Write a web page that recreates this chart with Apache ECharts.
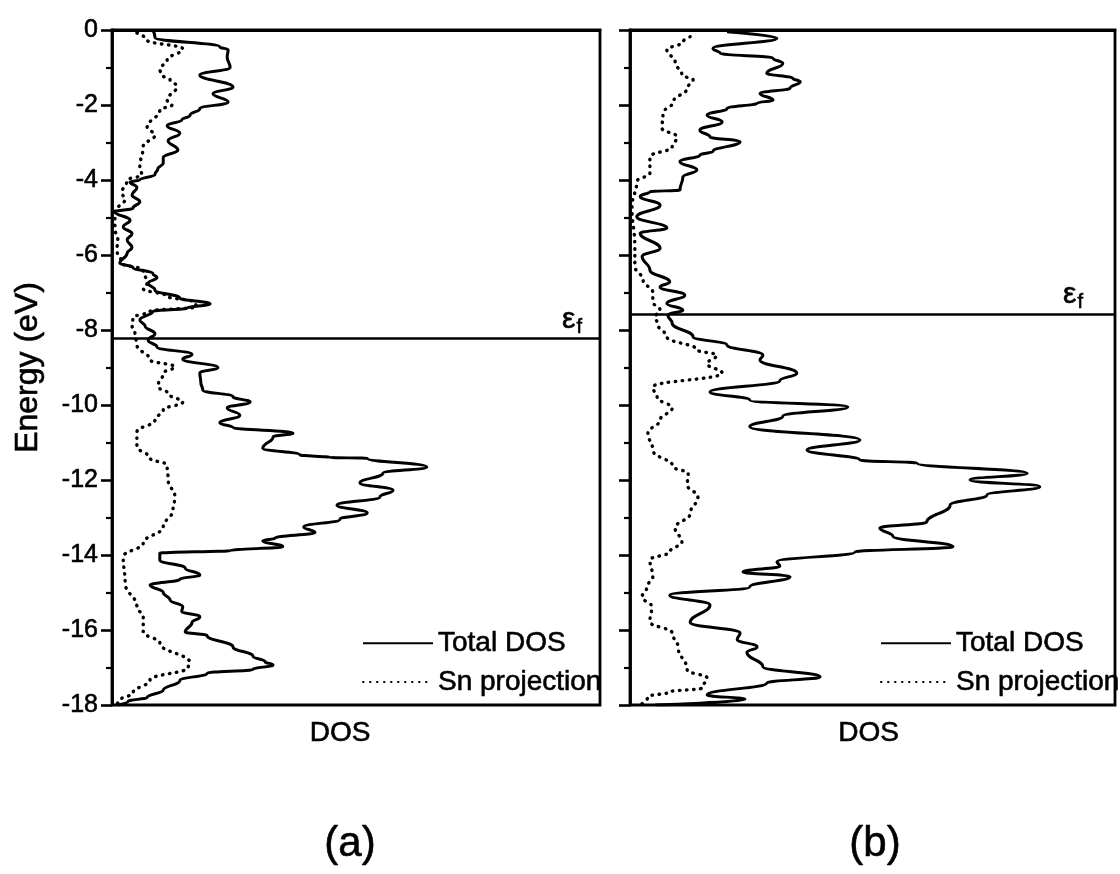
<!DOCTYPE html>
<html>
<head>
<meta charset="utf-8">
<script src="https://cdn.jsdelivr.net/npm/echarts@6/dist/echarts.min.js"></script>
<style>
  html, body { margin: 0; padding: 0; background: #fff; }
  #main { width: 1120px; height: 874px; }
</style>
</head>
<body>
<div id="main"></div>
<script>
// [energy (eV), DOS (arb. units, 0..100 = panel width)]
var totalA = [
    [0, 8.4], [-0.2, 8.8], [-0.45, 22.1], [-0.53, 23.8], [-0.72, 23.6], [-1.0, 24.2],
    [-1.2, 18.0], [-1.52, 24.8], [-1.7, 20.7], [-1.92, 23.8], [-2.1, 18.0], [-2.27, 16.0],
    [-2.4, 14.3], [-2.55, 11.3], [-2.75, 13.9], [-2.95, 11.5], [-3.2, 13.5], [-3.4, 10.5],
    [-3.55, 10.5], [-3.7, 9.4], [-3.85, 8.8], [-4.0, 5.7], [-4.05, 3.7], [-4.2, 5.1],
    [-4.4, 4.1], [-4.58, 5.7], [-4.75, 4.3], [-4.85, 0.6], [-5.07, 3.7], [-5.25, 2.3],
    [-5.43, 4.1], [-5.6, 3.1], [-5.8, 4.1], [-5.95, 3.1], [-6.22, 1.6], [-6.33, 4.3],
    [-6.5, 8.4], [-6.6, 9.2], [-6.75, 7.4], [-6.93, 8.8], [-7.15, 13.9], [-7.3, 20.1],
    [-7.42, 15.4], [-7.5, 8.4], [-7.73, 5.7], [-7.9, 6.8], [-8.1, 8.8], [-8.27, 7.4],
    [-8.45, 9.2], [-8.65, 16.4], [-8.78, 14.5], [-9.0, 21.7], [-9.15, 18.0], [-9.4, 18.2],
    [-9.6, 18.6], [-9.78, 24.8], [-9.92, 28.3], [-10.08, 23.6], [-10.27, 26.2], [-10.48, 22.1],
    [-10.6, 24.8], [-10.75, 37.1], [-10.85, 33.0], [-11.15, 30.9], [-11.33, 38.5], [-11.4, 44.7],
    [-11.42, 52.3], [-11.65, 64.5], [-11.82, 55.5], [-12.08, 50.8], [-12.27, 57.6], [-12.45, 54.9],
    [-12.67, 46.1], [-12.88, 52.3], [-13.05, 46.7], [-13.25, 39.3], [-13.4, 41.6], [-13.55, 33.4],
    [-13.62, 30.9], [-13.78, 35.0], [-13.88, 24.2], [-13.95, 9.8], [-14.13, 9.8], [-14.35, 15.0],
    [-14.53, 18.0], [-14.65, 13.9], [-14.8, 7.8], [-15.0, 10.5], [-15.2, 11.9], [-15.38, 14.5],
    [-15.5, 14.3], [-15.65, 18.0], [-15.8, 16.4], [-16.05, 15.0], [-16.15, 19.5], [-16.45, 24.8],
    [-16.7, 28.9], [-16.85, 31.4], [-16.93, 33.0], [-17.05, 28.9], [-17.15, 19.5], [-17.35, 13.9],
    [-17.6, 10.5], [-17.8, 7.2], [-17.9, 3.3], [-18, 1.2]
];
var snA = [
    [-0.08, 5.1], [-0.27, 7.2], [-0.5, 14.5], [-0.8, 11.3], [-1.05, 9.8], [-1.2, 10.2],
    [-1.33, 11.9], [-1.5, 13.3], [-1.87, 11.3], [-2.0, 12.3], [-2.13, 9.8], [-2.6, 7.2],
    [-2.8, 8.8], [-3.1, 6.4], [-3.65, 5.7], [-3.87, 6.1], [-4.0, 3.1], [-4.35, 2.0],
    [-4.5, 2.7], [-4.85, 0.6], [-5.3, 0.6], [-5.6, 1.2], [-5.87, 1.0], [-6.22, 2.0],
    [-6.4, 6.4], [-6.75, 7.2], [-6.9, 6.4], [-7.1, 11.3], [-7.25, 16.6], [-7.38, 17.4],
    [-7.5, 7.8], [-7.67, 4.3], [-7.87, 4.1], [-8.1, 4.7], [-8.4, 5.1], [-8.8, 7.8],
    [-8.98, 12.9], [-9.15, 10.5], [-9.5, 9.4], [-9.73, 11.9], [-9.92, 14.5], [-10.13, 10.5],
    [-10.4, 8.8], [-10.72, 5.1], [-11.1, 5.1], [-11.42, 7.8], [-11.6, 11.3], [-12.0, 11.5],
    [-12.45, 12.9], [-12.8, 12.5], [-13.25, 10.5], [-13.68, 6.4], [-14.05, 2.3], [-14.75, 2.7],
    [-15.38, 5.1], [-15.65, 6.4], [-16.05, 6.4], [-16.35, 9.8], [-16.88, 16.0], [-17.0, 15.6],
    [-17.33, 7.8], [-17.68, 4.3], [-17.87, 1.6], [-18, 0.6]
];
var totalB = [
    [-0.05, 20.0], [-0.22, 30.3], [-0.49, 17.1], [-0.62, 18.6], [-0.75, 29.5], [-0.89, 31.5],
    [-1.15, 28.2], [-1.29, 33.6], [-1.38, 35.1], [-1.55, 33.0], [-1.69, 26.8], [-1.87, 29.5],
    [-1.95, 26.2], [-2.09, 20.0], [-2.27, 15.9], [-2.45, 19.0], [-2.67, 14.4], [-2.85, 16.5],
    [-2.98, 22.7], [-3.24, 17.1], [-3.33, 14.4], [-3.51, 10.3], [-3.73, 13.8], [-3.92, 10.9],
    [-4.27, 10.3], [-4.31, 4.1], [-4.44, 2.1], [-4.67, 6.2], [-4.98, 1.4], [-5.28, 7.6],
    [-5.42, 2.1], [-5.82, 6.2], [-6.04, 2.5], [-6.4, 4.1], [-6.72, 8.2], [-6.85, 6.2],
    [-7.07, 11.3], [-7.29, 7.6], [-7.47, 10.9], [-7.6, 7.8], [-7.82, 8.7], [-8.18, 13.0],
    [-8.4, 20.0], [-8.67, 27.4], [-8.8, 26.8], [-9.15, 34.4], [-9.35, 30.9], [-9.65, 16.5],
    [-9.87, 24.7], [-10.05, 44.9], [-10.3, 31.5], [-10.58, 24.7], [-10.93, 47.4], [-11.2, 36.5],
    [-11.47, 47.4], [-11.55, 59.2], [-11.82, 81.9], [-12.0, 70.1], [-12.18, 84.5], [-12.4, 73.6],
    [-12.67, 66.0], [-13.12, 61.2], [-13.28, 51.5], [-13.5, 54.2], [-13.78, 66.6], [-13.92, 46.4],
    [-14.18, 30.3], [-14.3, 30.9], [-14.45, 23.3], [-14.58, 33.0], [-14.85, 24.7], [-15.07, 8.2],
    [-15.33, 16.5], [-15.8, 12.4], [-16.08, 22.7], [-16.25, 22.1], [-16.45, 26.2], [-16.6, 24.1],
    [-16.98, 27.4], [-17.25, 39.2], [-17.41, 28.2], [-17.73, 15.9], [-17.85, 23.7], [-18, 5.2]
];
var snB = [
    [-0.18, 12.4], [-0.32, 10.9], [-0.53, 7.6], [-0.85, 9.3], [-1.2, 10.7], [-1.33, 13.0],
    [-1.55, 11.8], [-1.92, 8.9], [-2.22, 6.8], [-2.62, 6.6], [-2.85, 9.7], [-3.12, 8.7],
    [-3.38, 4.1], [-3.82, 4.1], [-4.04, 1.4], [-4.71, 0.4], [-5.78, 1.0], [-6.3, 1.0],
    [-6.67, 2.7], [-7.0, 4.7], [-7.25, 4.7], [-7.47, 6.2], [-7.65, 5.2], [-7.87, 5.8],
    [-8.18, 7.6], [-8.53, 13.8], [-8.67, 17.9], [-8.9, 15.9], [-9.15, 19.0], [-9.52, 4.7],
    [-9.8, 5.6], [-10.08, 8.7], [-10.4, 6.2], [-10.75, 3.7], [-11.2, 4.7], [-11.65, 8.9],
    [-11.82, 12.0], [-12.13, 11.8], [-12.45, 14.0], [-12.9, 12.4], [-13.28, 9.3], [-13.65, 10.7],
    [-13.92, 8.2], [-14.13, 4.1], [-14.58, 4.7], [-14.85, 3.5], [-15.12, 2.5], [-15.38, 4.5],
    [-15.78, 4.1], [-16.08, 8.7], [-16.45, 9.9], [-17.07, 11.8], [-17.28, 15.9], [-17.55, 14.8],
    [-17.65, 8.2], [-17.78, 3.7], [-18, 2.1]
];
var fermiA = -8.23;
var fermiB = -7.57;
var seriesNames = ['Total DOS', 'Sn projection'];
var panelLabels = ['(a)', '(b)'];

var FONT = '"Liberation Sans", Arial, sans-serif';
// scanned print looks heavier than plain Arial
var INK = { color: '#000', textBorderColor: '#000', textBorderWidth: 0.6 };

function txt(size, extra) {
    var o = { fontFamily: FONT, fontSize: size, fontWeight: 'normal' };
    for (var k in INK) o[k] = INK[k];
    for (var j in (extra || {})) o[j] = extra[j];
    return o;
}

function swap(arr) {
    return arr.map(function (p) { return [p[1], p[0]]; });
}

function fermiLine(val, dist) {
    return {
        silent: true,
        symbol: 'none',
        lineStyle: { color: '#000', width: 2.6, type: 'solid' },
        label: {
            position: 'insideEndTop',
            formatter: '{e|ε}{f|f}',
            distance: [dist, 3],
            rich: {
                e: txt(30, { lineHeight: 32 }),
                f: txt(20, { lineHeight: 32, padding: [16, 0, 0, 1] })
            }
        },
        data: [{ yAxis: val }]
    };
}

function yAx(idx, showLabels) {
    return {
        gridIndex: idx, type: 'value', min: -18, max: 0, interval: 2,
        name: showLabels ? 'Energy (eV)' : '',
        nameLocation: 'middle', nameGap: 68,
        nameTextStyle: txt(32),
        axisLine: { show: true, lineStyle: { color: '#000', width: 2.8 } },
        axisTick: { show: true, length: 11, lineStyle: { color: '#000', width: 2.6 } },
        minorTick: { show: true, splitNumber: 2, length: 6, lineStyle: { color: '#000', width: 2.2 } },
        axisLabel: Object.assign({ show: showLabels, margin: 14 }, txt(25)),
        splitLine: { show: false }
    };
}

function xAx(idx, shift) {
    return {
        gridIndex: idx, type: 'value', min: 0, max: 100,
        name: 'DOS', nameLocation: 'middle', nameGap: 14,
        nameTextStyle: txt(28, { verticalAlign: 'top', padding: [0, shift, 0, 0] }),
        axisLine: { show: true, lineStyle: { color: '#000', width: 2.8 } },
        axisTick: { show: false }, axisLabel: { show: false }, splitLine: { show: false }
    };
}

function lineSeries(name, idx, data, dotted, mark, dist) {
    var s = {
        name: name, type: 'line', xAxisIndex: idx, yAxisIndex: idx,
        data: swap(data), symbol: 'none', smooth: 0.45, smoothMonotone: 'y',
        lineStyle: dotted ? { color: '#000', width: 3.4, type: [0.5, 6.5], cap: 'round' }
                          : { color: '#000', width: 3 },
        itemStyle: { color: '#000' },
        z: dotted ? 2 : 3
    };
    if (mark !== undefined) s.markLine = fermiLine(mark, dist);
    return s;
}

function legendFor(left) {
    return {
        data: seriesNames, orient: 'vertical', left: left, top: 624,
        itemWidth: 70, itemHeight: 14, itemGap: 10,
        itemStyle: { opacity: 0 },
        textStyle: txt(28),
        selectedMode: false
    };
}

var chart = echarts.init(document.getElementById('main'));
chart.setOption({
    backgroundColor: '#fff',
    animation: false,
    title: [
        { text: panelLabels[0], left: 345, top: 818, textAlign: 'center', textStyle: txt(42) },
        { text: panelLabels[1], left: 870, top: 818, textAlign: 'center', textStyle: txt(42) }
    ],
    legend: [legendFor(357), legendFor(875)],
    grid: [
        { left: 112, width: 488, top: 30, height: 675, show: true, borderColor: '#000', borderWidth: 2.8, backgroundColor: 'transparent' },
        { left: 630, width: 485, top: 30, height: 675, show: true, borderColor: '#000', borderWidth: 2.8, backgroundColor: 'transparent' }
    ],
    xAxis: [xAx(0, 32), xAx(1, 8)],
    yAxis: [yAx(0, true), yAx(1, false)],
    series: [
        lineSeries(seriesNames[0], 0, totalA, false, fermiA, 18),
        lineSeries(seriesNames[1], 0, snA, true),
        lineSeries(seriesNames[0], 1, totalB, false, fermiB, 32),
        lineSeries(seriesNames[1], 1, snB, true)
    ]
});
</script>
</body>
</html>
